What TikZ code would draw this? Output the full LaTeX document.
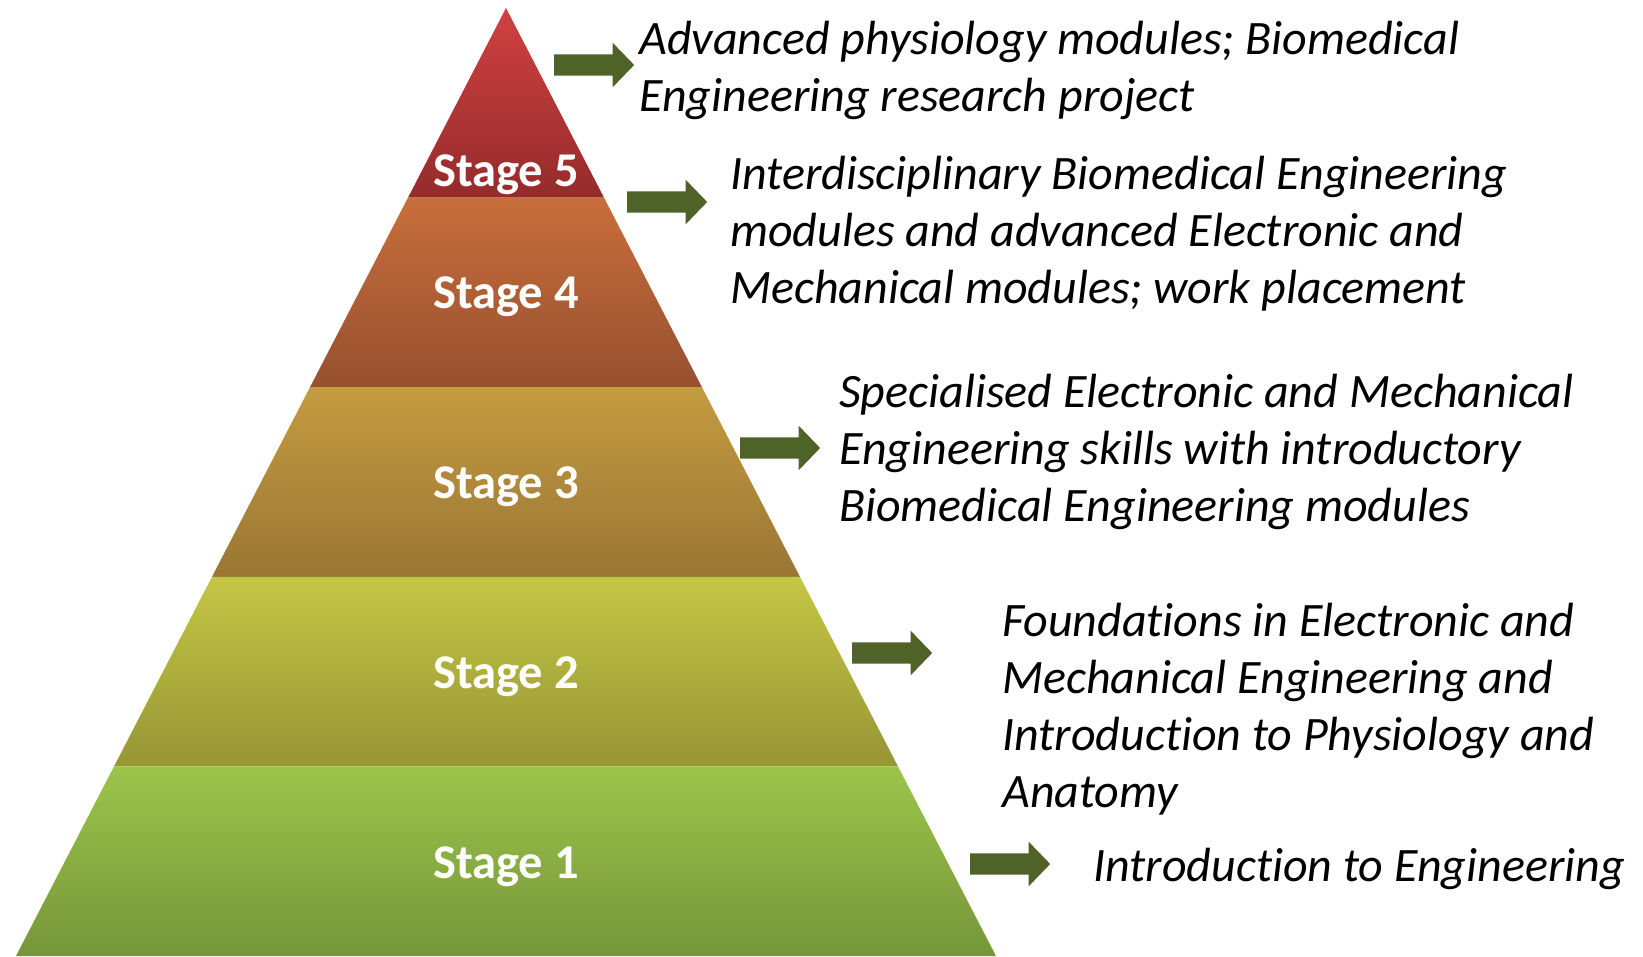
\documentclass[tikz,border=0pt]{standalone}
\usepackage{fontspec}
\setmainfont{Carlito}[Ligatures=NoCommon]
\usetikzlibrary{shapes.arrows}

\definecolor{arrowgreen}{HTML}{4F6228}
\definecolor{redtop}{HTML}{D04141}
\definecolor{redbot}{HTML}{952B2B}
\definecolor{orangetop}{HTML}{C86E3C}
\definecolor{orangebot}{HTML}{97502E}
\definecolor{goldtop}{HTML}{C59B40}
\definecolor{goldbot}{HTML}{9A7634}
\definecolor{olivetop}{HTML}{C4C645}
\definecolor{olivebot}{HTML}{979635}
\definecolor{greentop}{HTML}{9CC44A}
\definecolor{greenbot}{HTML}{76963A}

\tikzset{
  stagelabel/.style={text=white, font=\fontsize{48.5}{56}\selectfont\bfseries, inner sep=0pt},
  stagetext/.style={anchor=west, align=left, inner sep=0pt, font=\fontsize{48}{57}\selectfont\itshape},
  stagearrow/.style={single arrow, fill=arrowgreen, draw=none, inner xsep=0pt, inner ysep=10.5pt, outer sep=0pt,
    minimum height=80pt, single arrow head extend=11.5pt, single arrow tip angle=92}
}

\begin{document}
\begin{tikzpicture}[x=1pt, y=-1pt]
\useasboundingbox (0,0) rectangle (1643,956);

% the five bands of the pyramid
\shade[top color=redtop, bottom color=redbot] (506,8) -- (604,197.6) -- (408,197.6) -- cycle;
\shade[top color=orangetop, bottom color=orangebot] (408,197.6) -- (604,197.6) -- (702,387.2) -- (310,387.2) -- cycle;
\shade[top color=goldtop, bottom color=goldbot] (310,387.2) -- (702,387.2) -- (800,576.8) -- (212,576.8) -- cycle;
\shade[top color=olivetop, bottom color=olivebot] (212,576.8) -- (800,576.8) -- (898,766.4) -- (114,766.4) -- cycle;
\shade[top color=greentop, bottom color=greenbot] (114,766.4) -- (898,766.4) -- (996,956) -- (16,956) -- cycle;

\node[stagelabel] (lbl5) at (506,175) {Stage 5};
\node[stagelabel] (lbl4) at (506,297) {Stage 4};
\node[stagelabel] (lbl3) at (506,487) {Stage 3};
\node[stagelabel] (lbl2) at (506,677) {Stage 2};
\node[stagelabel] (lbl1) at (506,867) {Stage 1};

% arrows
\node[stagearrow] (arr5) at (589,65) {};
\node[stagearrow] (arr4) at (662,202) {};
\node[stagearrow] (arr3) at (775,448) {};
\node[stagearrow] (arr2) at (887,653) {};
\node[stagearrow] (arr1) at (1005,864) {};

% descriptions
\node[stagetext] (txt5) at (639,70) {Advanced physiology modules; Biomedical\\Engineering research project};
\node[stagetext] (txt4) at (730,234) {Interdisciplinary Biomedical Engineering\\modules and advanced Electronic and\\Mechanical modules; work placement};
\node[stagetext] (txt3) at (839,452) {Specialised Electronic and Mechanical\\Engineering skills with introductory\\Biomedical Engineering modules};
\node[stagetext] (txt2) at (1002,709) {Foundations in Electronic and\\Mechanical Engineering and\\Introduction to Physiology and\\Anatomy};
\node[stagetext] (txt1) at (1093,869) {Introduction to Engineering};
\end{tikzpicture}
\end{document}
